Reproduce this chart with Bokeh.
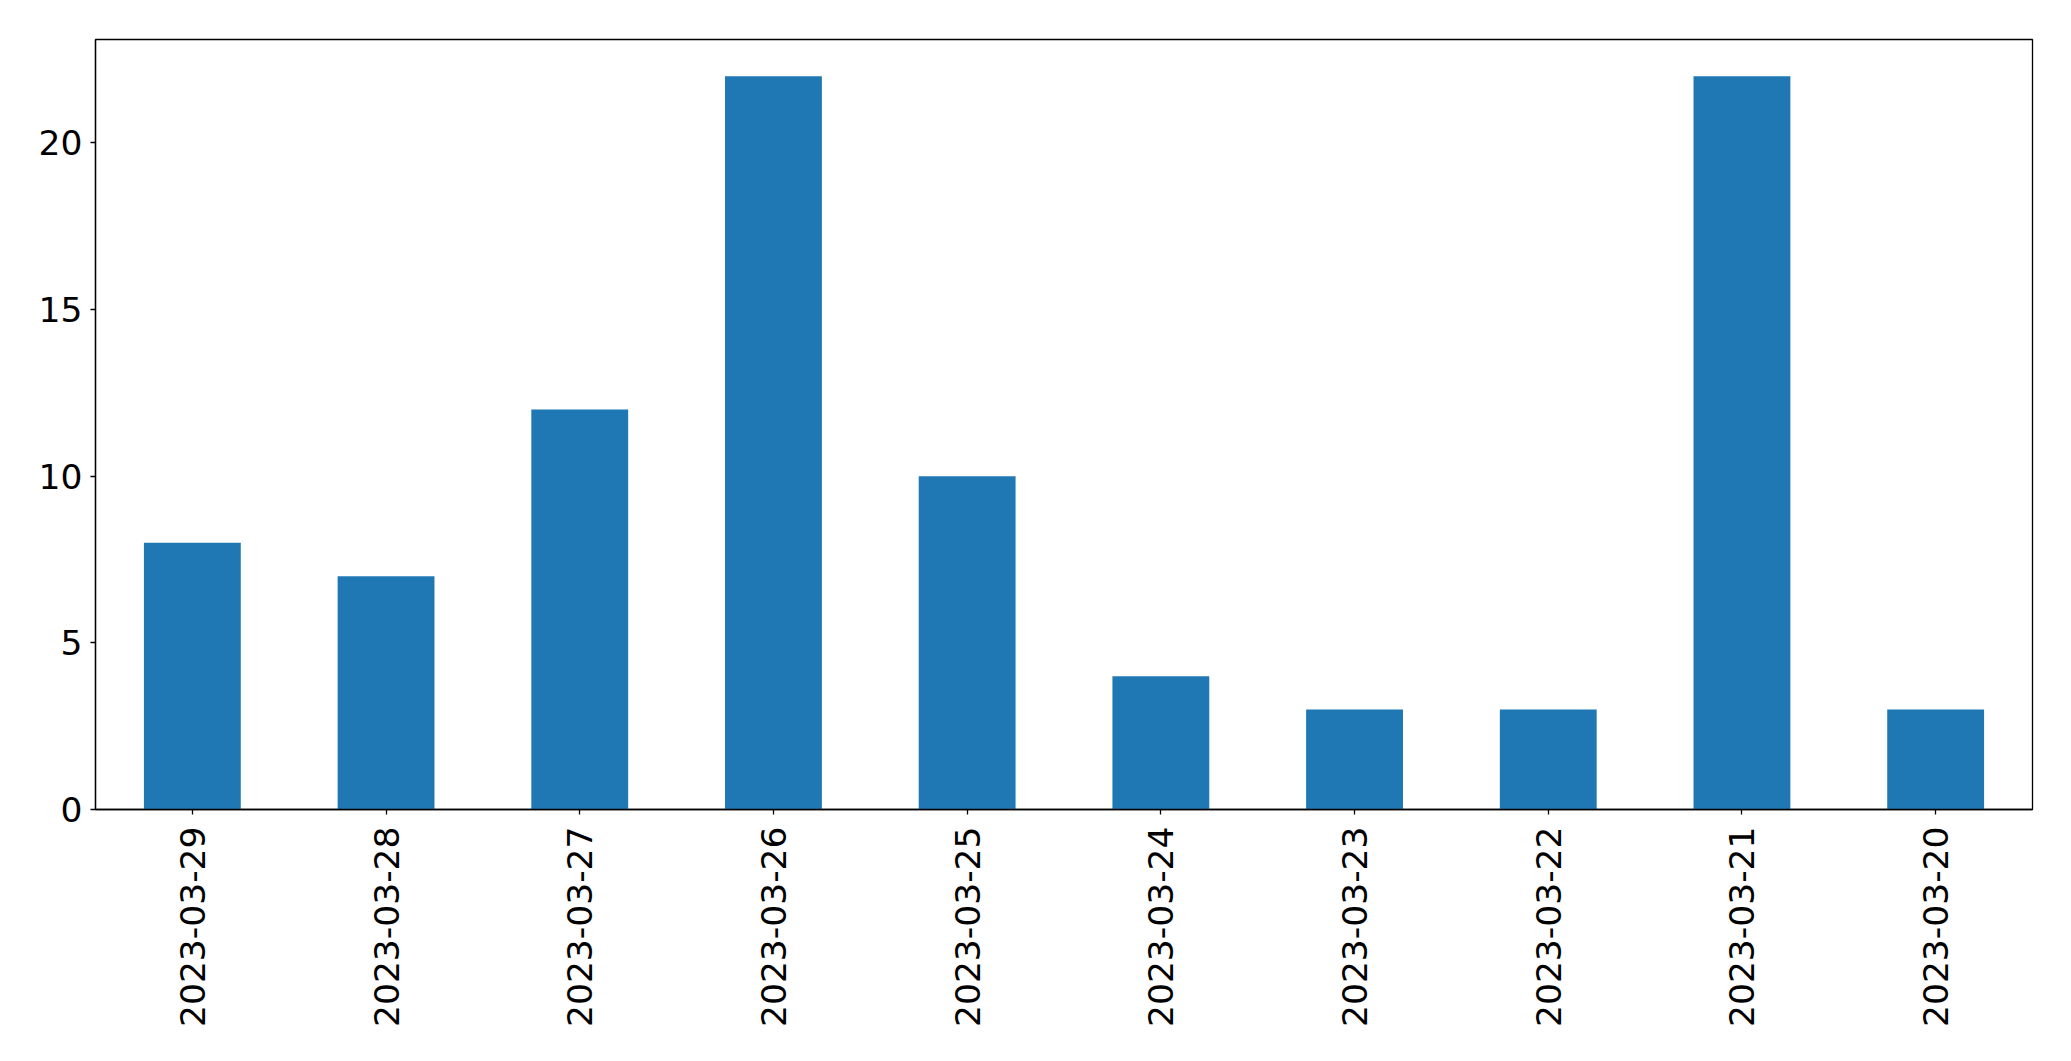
import math
from bokeh.plotting import figure
from bokeh.models import FactorRange, Range1d, FixedTicker, ColumnDataSource
from bokeh.embed import file_html
from bokeh.resources import INLINE

dates = ["2023-03-29", "2023-03-28", "2023-03-27", "2023-03-26", "2023-03-25",
         "2023-03-24", "2023-03-23", "2023-03-22", "2023-03-21", "2023-03-20"]
counts = [8, 7, 12, 22, 10, 4, 3, 3, 22, 3]
y_ticks = [0, 5, 10, 15, 20]

source = ColumnDataSource(dict(date=dates, count=counts))

p = figure(width=2071, height=1061, output_backend="svg", toolbar_location=None,
           x_range=FactorRange(*dates), y_range=Range1d(0, 23.1),
           min_border_left=95, min_border_right=39, min_border_top=39, min_border_bottom=252)

p.vbar(x="date", top="count", width=0.5, bottom=0, source=source,
       fill_color="#1f77b4", line_color=None)

p.xgrid.visible = False
p.ygrid.visible = False
p.outline_line_color = "black"
p.outline_line_width = 1.3
p.outline_line_alpha = 1.0

for ax in (p.xaxis[0], p.yaxis[0]):
    ax.major_label_text_font = "DejaVu Sans"
    ax.major_label_text_font_size = "34.5px"
    ax.major_label_text_color = "black"
    ax.major_tick_out = 5
    ax.major_tick_in = 0
    ax.minor_tick_out = 0
    ax.minor_tick_in = 0
    ax.axis_line_color = "black"
    ax.axis_line_width = 1.3
    ax.major_tick_line_color = "black"
    ax.major_tick_line_width = 1.3

p.yaxis[0].ticker = FixedTicker(ticks=y_ticks)
p.yaxis[0].major_label_standoff = 8
p.xaxis[0].major_label_orientation = math.pi / 2
p.xaxis[0].major_label_standoff = 12

open("out.html", "w").write(file_html(p, INLINE))
